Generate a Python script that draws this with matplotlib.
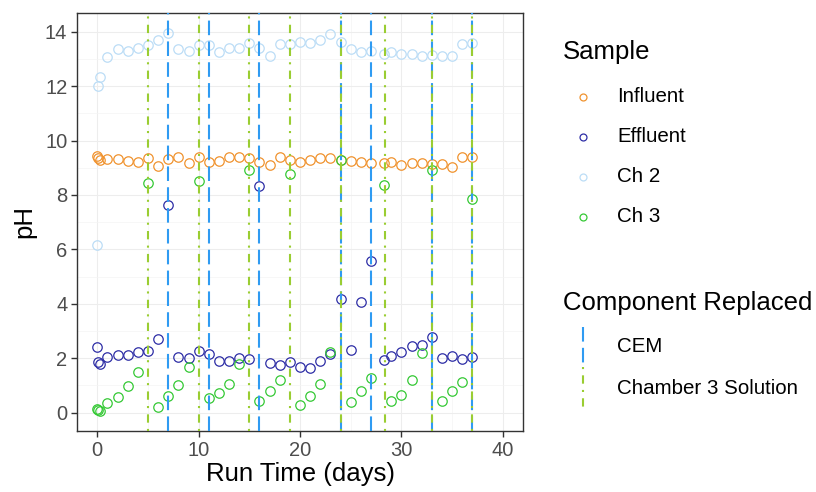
"""pH of each sample over the run, with component replacement days."""

import matplotlib
matplotlib.use('Agg')
import matplotlib.pyplot as plt
from matplotlib.lines import Line2D

plt.rcParams['font.family'] = ['Liberation Sans', 'DejaVu Sans']

# data
t = [0, 0.1, 0.3] + list(range(1, 28)) + [28.3] + list(range(29, 38))

influent = [9.43, 9.37, 9.30, 9.33, 9.32, 9.23, 9.22, 9.35, 9.08, 9.31,
            9.40, 9.17, 9.38, 9.22, 9.26, 9.38, 9.38, 9.35, 9.20, 9.10,
            9.38, 9.27, 9.22, 9.30, 9.35, 9.37, 9.28, 9.23, 9.20, 9.19,
            9.16, 9.20, 9.11, 9.19, 9.17, 9.12, 9.15, 9.03, 9.38, 9.38]
effluent = [2.41, 1.84, 1.77, 2.03, 2.12, 2.11, 2.22, 2.27, 2.70, 7.64,
            2.03, 1.99, 2.27, 2.15, 1.88, 1.89, 2.01, 1.96, 8.34, 1.83,
            1.75, 1.87, 1.68, 1.62, 1.90, 2.14, 4.17, 2.31, 4.05, 5.56,
            1.92, 2.07, 2.21, 2.44, 2.47, 2.79, 2.00, 2.09, 1.96, 2.03]
ch2 = [6.17, 12.00, 12.32, 13.08, 13.37, 13.31, 13.40, 13.52, 13.69, 13.94,
       13.35, 13.31, 13.52, 13.53, 13.25, 13.41, 13.40, 13.57, 13.42, 13.12,
       13.55, 13.56, 13.61, 13.60, 13.69, 13.90, 13.63, 13.35, 13.25, 13.29,
       13.20, 13.26, 13.20, 13.20, 13.10, 13.15, 13.12, 13.12, 13.56, 13.60]
ch3 = [0.13, 0.11, 0.06, 0.35, 0.56, 0.98, 1.50, 8.44, 0.20, 0.59,
       1.02, 1.68, 8.50, 0.52, 0.72, 1.05, 1.80, 8.90, 0.44, 0.80,
       1.18, 8.78, 0.27, 0.61, 1.03, 2.23, 9.27, 0.37, 0.80, 1.28,
       8.37, 0.44, 0.64, 1.19, 2.20, 8.92, 0.44, 0.80, 1.13, 7.85]

cem_days = [7, 11, 16, 24, 27, 33, 37]
ch3_sol_days = [5, 10, 15, 19, 24, 28.4, 33, 37]

samples = ['Influent', 'Effluent', 'Ch 2', 'Ch 3']
sample_data = [influent, effluent, ch2, ch3]
sample_colors = ['#F0932F', '#2E2EA6', '#BCDDF6', '#35C935']

cem_color = '#2F9BF2'
sol_color = '#9ACD32'
cem_dash = (0, (7, 3))
sol_dash = (0, (1, 3, 4, 3))

# plotting
fig = plt.figure(figsize=(8.16, 4.92), dpi=100)
ax = fig.add_axes([77 / 816, 1 - 431 / 492, 446 / 816, 418 / 492])

for name, vals, col in zip(samples, sample_data, sample_colors):
    ax.plot(t, vals, 'o', ms=6.8, mfc='none', mec=col, mew=0.9, zorder=3)

for d in cem_days:
    ax.axvline(d, color=cem_color, lw=1.5, ls=cem_dash, zorder=4)
for d in ch3_sol_days:
    ax.axvline(d, color=sol_color, lw=1.5, ls=sol_dash, zorder=5)

ax.set_xlim(-2, 42)
ax.set_ylim(-0.68, 14.69)
ax.set_xticks(range(0, 41, 10))
ax.set_xticks(range(5, 40, 10), minor=True)
ax.set_yticks(range(0, 15, 2))
ax.set_yticks(range(1, 14, 2), minor=True)
ax.grid(which='major', color='#EDEDED', lw=0.8, zorder=0)
ax.grid(which='minor', color='#F4F4F4', lw=0.5, zorder=0)
ax.set_axisbelow(True)
for s in ax.spines.values():
    s.set_color('#333333')
    s.set_linewidth(1.0)
ax.tick_params(which='major', length=4, width=1.0, color='#333333',
               labelsize=14.5, labelcolor='#4D4D4D', pad=3)
ax.tick_params(which='minor', length=0)
ax.set_xlabel('Run Time (days)', fontsize=18.5, labelpad=2)
ax.set_ylabel('pH', fontsize=18.5, labelpad=6)

# legends drawn by hand to mimic ggplot's layout
def fx(x):
    return x / 816

def fy(y):
    return 1 - y / 492

fig.text(fx(563), fy(52), 'Sample', fontsize=18.5, va='center')
for i, (name, col) in enumerate(zip(samples, sample_colors)):
    y = 97 + 40 * i
    fig.add_artist(Line2D([fx(583)], [fy(y)], marker='o', ms=5, mfc='none',
                          mec=col, mew=0.9, transform=fig.transFigure))
    fig.text(fx(617), fy(y), name, fontsize=14.8, va='center')

fig.text(fx(563), fy(303), 'Component Replaced', fontsize=18.5, va='center')
fig.add_artist(Line2D([fx(583), fx(583)], [fy(327), fy(368)], color=cem_color,
                      lw=1.5, ls=cem_dash, transform=fig.transFigure))
fig.add_artist(Line2D([fx(583), fx(583)], [fy(367), fy(408)], color=sol_color,
                      lw=1.5, ls=sol_dash, transform=fig.transFigure))
fig.text(fx(617), fy(346), 'CEM', fontsize=14.8, va='center')
fig.text(fx(617), fy(388), 'Chamber 3 Solution', fontsize=14.8, va='center')

fig.savefig('out.png', dpi=100)
